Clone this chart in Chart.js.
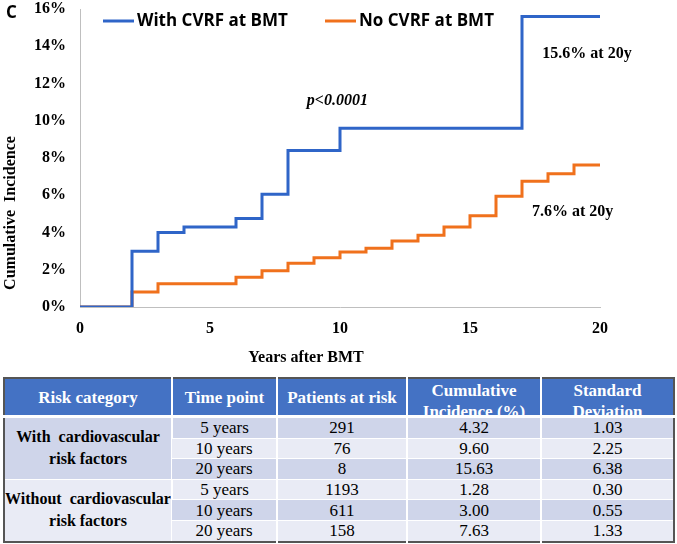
<!DOCTYPE html>
<html>
<head>
<meta charset="utf-8">
<script src="https://cdn.jsdelivr.net/npm/chart.js@4"></script>
<style>
  html, body { margin: 0; padding: 0; background: #fff; }
  #wrap { position: relative; width: 677px; height: 544px; overflow: hidden; }
  #cv { position: absolute; left: 0; top: 0; }
  table {
    position: absolute; left: 3px; top: 377px; width: 670px;
    border-collapse: collapse; table-layout: fixed;
    font-family: "Liberation Serif", "Times New Roman", serif; font-size: 17px; color: #000;
    border: 2px solid #555;
  }
  th { background: #4472C4; color: #fff; font-weight: bold; font-size: 17px; padding: 0;
       border-left: 2px solid #fff; border-bottom: 3px solid #fff; }
  th:first-child { border-left: none; }
  th > div { height: 36px; overflow: hidden; display: flex; flex-direction: column; align-items: center;
             justify-content: center; line-height: 21px; }
  th > div.two { justify-content: flex-start; padding-top: 1px; height: 35px; }
  td { text-align: center; height: 19.6px; line-height: 19px; padding: 0; border-left: 2px solid #fff; border-top: 1px solid #fff;
       white-space: nowrap; overflow: hidden; }
  td:first-child { border-left: none; }
  td.grp { font-weight: bold; font-size: 16px; line-height: 22px; }
  .d { background: #CFD5EA; }
  .l { background: #E9EBF5; }
</style>
</head>
<body>
<div id="wrap">
  <canvas id="cv" width="677" height="372"></canvas>
  <table id="tbl"></table>
</div>
<script>
// ---- chart data ----
const seriesNames = ["With CVRF at BMT", "No CVRF at BMT"];
const withYears = [0, 2, 3, 4, 6, 7, 8, 10, 17, 20];
const withIncidence = [0, 3.0, 4.0, 4.3, 4.75, 6.05, 8.4, 9.6, 15.6, 15.6];
const noYears = [0, 2, 3, 6, 7, 8, 9, 10, 11, 12, 13, 14, 15, 16, 17, 18, 19, 20];
const noIncidence = [0, 0.8, 1.25, 1.6, 1.95, 2.35, 2.65, 2.95, 3.15, 3.55, 3.85, 4.3, 4.9, 5.95, 6.75, 7.15, 7.63, 7.63];
const xTicks = [0, 5, 10, 15, 20];
const yTicks = [0, 2, 4, 6, 8, 10, 12, 14, 16];
const xTitle = "Years after BMT";
const yTitle = "Cumulative  Incidence";
const annoTexts = ["p<0.0001", "15.6% at 20y", "7.6% at 20y"];
const annoX = [9.9, 19.5, 18.95];
const annoY = [11.05, 13.6, 5.1];

// ---- table data ----
const tableHeader = [["Risk category"], ["Time point"], ["Patients at risk"], ["Cumulative", "Incidence (%)"], ["Standard", "Deviation"]];
const riskGroups = [["With&nbsp; cardiovascular", "risk factors"], ["Without&nbsp; cardiovascular", "risk factors"]];
const timePoints = ["5 years", "10 years", "20 years"];
const atRisk = [[291, 76, 8], [1193, 611, 158]];
const cumInc = [["4.32", "9.60", "15.63"], ["1.28", "3.00", "7.63"]];
const stdDev = [["1.03", "2.25", "6.38"], ["0.30", "0.55", "1.33"]];

const BLUE = "#2F65C8";
const ORANGE = "#F0711C";
const SERIF = '"Liberation Serif", "Times New Roman", serif';
const SANS = '"Open Sans", "DejaVu Sans", sans-serif';

const overlay = {
  id: "overlay",
  afterDraw(chart) {
    const ctx = chart.ctx;
    const xs = chart.scales.x, ys = chart.scales.y;
    ctx.save();
    // panel letter
    ctx.fillStyle = "#000";
    ctx.font = "bold 17px " + SANS;
    ctx.textAlign = "left"; ctx.textBaseline = "middle";
    ctx.fillText("C", 6, 13);
    // legend
    const legX = [103, 325];
    chart.data.datasets.forEach((ds, i) => {
      ctx.strokeStyle = ds.borderColor; ctx.lineWidth = 3;
      ctx.beginPath(); ctx.moveTo(legX[i], 21); ctx.lineTo(legX[i] + 31, 21); ctx.stroke();
      ctx.fillStyle = "#000";
      ctx.font = "bold 17px " + SANS;
      ctx.textAlign = "left"; ctx.textBaseline = "middle";
      ctx.fillText(ds.label, legX[i] + 34, 21);
    });
    // annotations
    annoTexts.forEach((t, i) => {
      ctx.font = (i === 0 ? "italic bold 16px " : "bold 16px ") + SERIF;
      ctx.textAlign = "center"; ctx.textBaseline = "middle";
      ctx.fillStyle = "#000";
      ctx.fillText(t, xs.getPixelForValue(annoX[i]), ys.getPixelForValue(annoY[i]));
    });
    // axis titles
    ctx.font = "bold 16px " + SERIF;
    ctx.textAlign = "center"; ctx.textBaseline = "middle";
    ctx.fillText(xTitle, 306, 358);
    ctx.translate(11, 213);
    ctx.rotate(-Math.PI / 2);
    ctx.fillText(yTitle, 0, 0);
    ctx.restore();
  }
};

new Chart(document.getElementById("cv"), {
  type: "line",
  data: {
    datasets: [
      { label: seriesNames[0], data: withYears.map((x, i) => ({ x, y: withIncidence[i] })),
        borderColor: BLUE, backgroundColor: BLUE, borderWidth: 3, stepped: "before", pointRadius: 0, fill: false },
      { label: seriesNames[1], data: noYears.map((x, i) => ({ x, y: noIncidence[i] })),
        borderColor: ORANGE, backgroundColor: ORANGE, borderWidth: 3, stepped: "before", pointRadius: 0, fill: false }
    ]
  },
  options: {
    responsive: false,
    animation: false,
    devicePixelRatio: 1,
    layout: { padding: { top: 9, right: 77, left: 0, bottom: 0 } },
    plugins: { legend: { display: false }, tooltip: { enabled: false } },
    scales: {
      x: {
        type: "linear", min: 0, max: 20,
        afterBuildTicks: (s) => { s.ticks = xTicks.map(v => ({ value: v })); },
        afterFit: (s) => { s.height = 65; s.paddingLeft = 0; s.paddingRight = 0; },
        grid: { display: false, drawTicks: false },
        border: { display: true, color: "#BFBFBF", width: 1 },
        ticks: { padding: 12, color: "#000", font: { family: SERIF, size: 16, weight: "bold" } }
      },
      y: {
        type: "linear", min: 0, max: 16,
        afterBuildTicks: (s) => { s.ticks = yTicks.map(v => ({ value: v })); },
        afterFit: (s) => { s.width = 80; s.paddingTop = 0; s.paddingBottom = 0; },
        grid: { display: false, drawTicks: false },
        border: { display: true, color: "#BFBFBF", width: 1 },
        ticks: { padding: 14, color: "#000", font: { family: SERIF, size: 16, weight: "bold" },
                 callback: (v) => v + "%" }
      }
    }
  },
  plugins: [overlay]
});

// ---- build table ----
const tbl = document.getElementById("tbl");
const widths = [168, 105, 130, 134, 133];
let html = "<colgroup>" + widths.map(w => `<col style="width:${w}px">`).join("") + "</colgroup>";
html += "<tr>" + tableHeader.map(h => `<th><div class="${h.length > 1 ? "two" : ""}">${h.map(s => `<span>${s}</span>`).join("")}</div></th>`).join("") + "</tr>";
let rowIdx = 0;
riskGroups.forEach((g, gi) => {
  timePoints.forEach((tp, ti) => {
    const cls = rowIdx % 2 === 0 ? "d" : "l";
    html += "<tr>";
    if (ti === 0) html += `<td rowspan="3" class="grp ${gi === 0 ? "d" : "l"}">${g.join("<br>")}</td>`;
    html += `<td class="${cls}">${tp}</td><td class="${cls}">${atRisk[gi][ti]}</td><td class="${cls}">${cumInc[gi][ti]}</td><td class="${cls}">${stdDev[gi][ti]}</td>`;
    html += "</tr>";
    rowIdx++;
  });
});
tbl.innerHTML = html;
</script>
</body>
</html>
